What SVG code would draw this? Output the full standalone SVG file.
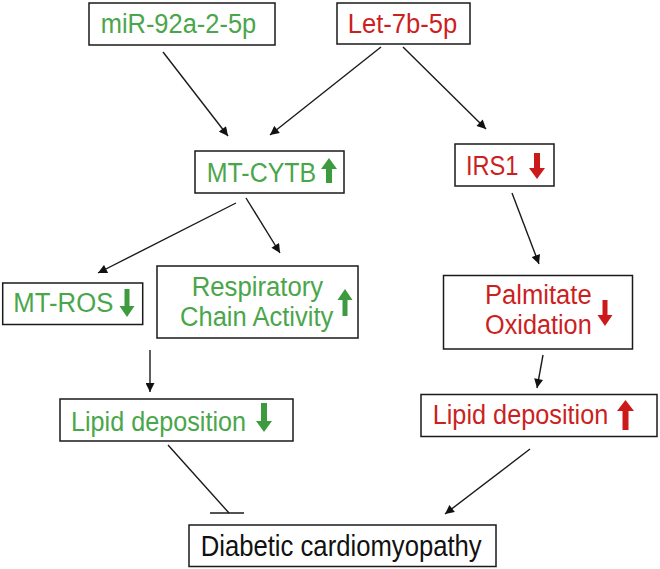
<svg xmlns="http://www.w3.org/2000/svg" width="660" height="569" viewBox="0 0 660 569">
<defs>
<marker id="ah" viewBox="0 0 10 10" refX="10" refY="5" markerWidth="10" markerHeight="9" markerUnits="userSpaceOnUse" orient="auto">
<path d="M0,0 L10,5 L0,10 Z" fill="#111"/>
</marker>
</defs>
<style>
rect.box{fill:#fff;stroke:#1a1a1a;stroke-width:1.5}
text{font-family:"Liberation Sans",Arial,sans-serif;font-size:27px}
text.big{font-size:29px}
.g{fill:#4aa64a}
.r{fill:#cc1f1f}
.k{fill:#111}
.ga{fill:#3e9a3e}
.ra{fill:#cc1a1a}
.c{stroke:#1a1a1a;stroke-width:1.4;fill:none}
</style>
<rect width="660" height="569" fill="#fff"/>
<g id="connectors">
<line class="c" x1="163" y1="52" x2="228" y2="136" marker-end="url(#ah)"/>
<line class="c" x1="381" y1="47" x2="270" y2="135" marker-end="url(#ah)"/>
<line class="c" x1="403" y1="47" x2="486" y2="129" marker-end="url(#ah)"/>
<line class="c" x1="236" y1="203" x2="98" y2="273" marker-end="url(#ah)"/>
<line class="c" x1="246" y1="198" x2="280" y2="253" marker-end="url(#ah)"/>
<line class="c" x1="512" y1="193" x2="539" y2="264" marker-end="url(#ah)"/>
<line class="c" x1="150" y1="350" x2="150" y2="392" marker-end="url(#ah)"/>
<line class="c" x1="543" y1="355" x2="537" y2="388" marker-end="url(#ah)"/>
<line class="c" x1="168" y1="445" x2="229" y2="513"/>
<line class="c" x1="210" y1="513" x2="244" y2="513"/>
<line class="c" x1="530" y1="449" x2="445" y2="514" marker-end="url(#ah)"/>
</g>
<g id="miR-92a-2-5p">
<rect class="box" x="89" y="3" width="186" height="42"/>
<text class="g" x="100.7" y="33" textLength="155.5" lengthAdjust="spacingAndGlyphs">miR-92a-2-5p</text>
</g>
<g id="Let-7b-5p">
<rect class="box" x="337" y="3" width="133" height="41"/>
<text class="r" x="347.7" y="33" textLength="109.6" lengthAdjust="spacingAndGlyphs">Let-7b-5p</text>
</g>
<g id="MT-CYTB">
<rect class="box" x="195" y="151" width="149" height="42"/>
<text class="g" x="206.7" y="182" textLength="109.5" lengthAdjust="spacingAndGlyphs">MT-CYTB</text>
<polygon class="ga" points="329,158 337,169 332,169 332,183 326,183 326,169 321,169"/>
</g>
<g id="IRS1">
<rect class="box" x="455" y="144" width="99" height="42"/>
<text class="r" x="466" y="175" textLength="52.5" lengthAdjust="spacingAndGlyphs">IRS1</text>
<polygon class="ra" points="537,179 529,168 534,168 534,153 540,153 540,168 545,168"/>
</g>
<g id="MT-ROS">
<rect class="box" x="2.7" y="283" width="140" height="41.5"/>
<text class="g" x="13.3" y="312" textLength="100" lengthAdjust="spacingAndGlyphs">MT-ROS</text>
<polygon class="ga" points="127,317 119.5,306 124.5,306 124.5,289 129.5,289 129.5,306 134.5,306"/>
</g>
<g id="Respiratory-Chain-Activity">
<rect class="box" x="157" y="266" width="201" height="72"/>
<text class="g" x="191.7" y="296" textLength="131.5" lengthAdjust="spacingAndGlyphs">Respiratory</text>
<text class="g" x="180" y="326" textLength="153.3" lengthAdjust="spacingAndGlyphs">Chain Activity</text>
<polygon class="ga" points="345,289 352.5,300 347.5,300 347.5,316 342.5,316 342.5,300 337.5,300"/>
</g>
<g id="Palmitate-Oxidation">
<rect class="box" x="443.5" y="275.5" width="189" height="73.5"/>
<text class="r" x="485" y="304" textLength="106.7" lengthAdjust="spacingAndGlyphs">Palmitate</text>
<text class="r" x="485" y="334" textLength="106.7" lengthAdjust="spacingAndGlyphs">Oxidation</text>
<polygon class="ra" points="605,326 597.5,315 602.5,315 602.5,300 607.5,300 607.5,315 612.5,315"/>
</g>
<g id="Lipid-deposition-down">
<rect class="box" x="60" y="399" width="233" height="42"/>
<text class="g" x="71" y="431" textLength="175" lengthAdjust="spacingAndGlyphs">Lipid deposition</text>
<polygon class="ga" points="264,432 256,421 261,421 261,403 267,403 267,421 272,421"/>
</g>
<g id="Lipid-deposition-up">
<rect class="box" x="421" y="394.5" width="236" height="42"/>
<text class="r" x="432.7" y="424" textLength="175.6" lengthAdjust="spacingAndGlyphs">Lipid deposition</text>
<polygon class="ra" points="625.5,400 634,411 628.5,411 628.5,430 622.5,430 622.5,411 617,411"/>
</g>
<g id="Diabetic-cardiomyopathy">
<rect class="box" x="189" y="525" width="307" height="41.5"/>
<text class="k big" x="200.7" y="556" textLength="281" lengthAdjust="spacingAndGlyphs">Diabetic cardiomyopathy</text>
</g>
</svg>
